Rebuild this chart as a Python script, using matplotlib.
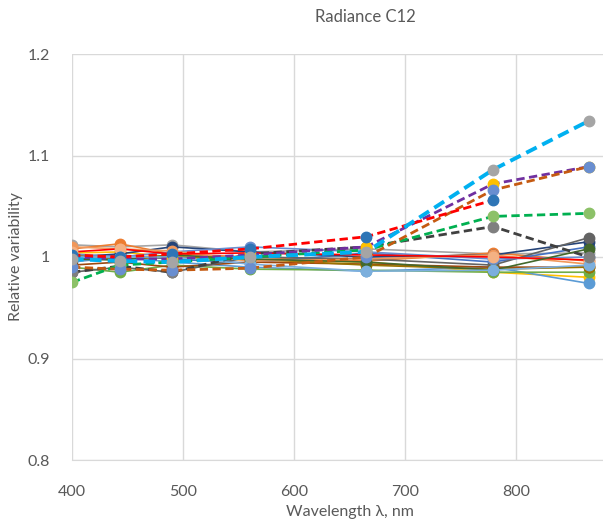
import matplotlib
matplotlib.use("Agg")
import matplotlib.pyplot as plt
import numpy as np

plt.rcParams['font.family'] = ['Lato', 'DejaVu Sans']

wavelengths = [400, 443, 490, 560, 665, 779, 865]

# solid series: line colour, marker colour, values
solid_colors = ["#A5A5A5", "#ED7D31", "#FFC000", "#4472C4", "#5B9BD5", "#70AD47",
                "#264478", "#9E480E", "#636363", "#997300", "#698ED0", "#F1975A",
                "#FF0000", "#43682B", "#7CAFDD"]
solid_marker_colors = ["#A5A5A5", "#ED7D31", "#FFC000", "#4472C4", "#5B9BD5", "#70AD47",
                       "#264478", "#9E480E", "#636363", "#997300", "#698ED0", "#F1975A",
                       "#F4B183", "#43682B", "#7CAFDD"]
solid_values = [
    [1.012, 1.010, 1.012, 1.005, 1.008, 1.003, 1.004],
    [1.008, 1.013, 1.003, 1.000, 0.996, 1.004, 0.996],
    [1.004, 1.005, 1.000, 0.997, 0.995, 0.985, 0.980],
    [0.997, 1.002, 0.998, 0.994, 1.004, 0.995, 1.010],
    [0.995, 1.000, 0.995, 0.990, 0.986, 0.990, 0.974],
    [0.990, 0.985, 0.992, 0.988, 0.987, 0.985, 0.985],
    [1.000, 1.003, 1.010, 1.005, 1.000, 1.002, 1.015],
    [0.992, 0.995, 0.990, 0.995, 0.993, 0.990, 0.990],
    [0.985, 0.990, 0.985, 1.000, 0.998, 0.992, 1.019],
    [1.002, 0.998, 1.000, 0.998, 0.992, 0.988, 0.990],
    [1.003, 1.000, 1.005, 1.010, 1.005, 0.998, 1.000],
    [1.010, 1.008, 1.006, 0.996, 0.998, 1.002, 0.993],
    [1.005, 1.008, 1.003, 1.004, 1.002, 1.000, 0.997],
    [0.998, 0.997, 1.002, 0.998, 0.995, 0.987, 1.008],
    [1.000, 1.000, 1.000, 0.993, 0.986, 0.987, 0.992],
]

# dashed series: line colour, marker colour, values
dashed_colors = ["#404040", "#00B050", "#7030A0", "#C55A11", "#FF0000", "#00B0F0"]
dashed_marker_colors = ["#7F7F7F", "#8CC168", "#FFC000", "#698ED0", "#2E75B6", "#A5A5A5"]
dashed_values = [
    [0.985, 0.991, 0.985, 1.003, 1.010, 1.030, 1.000],
    [0.975, 0.992, 0.995, 1.000, 1.007, 1.040, 1.043],
    [1.000, 0.998, 0.998, 1.002, 1.010, 1.072, 1.089],
    [0.990, 0.988, 0.987, 0.989, 1.000, 1.066, 1.089],
    [1.002, 1.000, 1.003, 1.008, 1.020, 1.056, np.nan],
    [0.998, 0.996, 0.995, 1.000, 1.005, 1.086, 1.134],
]
dashed_widths = [2.0, 2.0, 2.0, 2.0, 2.0, 2.8]

fig = plt.figure(figsize=(6.03, 5.24), dpi=100)
ax = fig.add_axes([72/603, 64/524, (603-72)/603, 406/524])

for c, mc, v in zip(solid_colors, solid_marker_colors, solid_values):
    ax.plot(wavelengths, v, color=c, lw=1.2, marker='o', ms=7.5,
            mfc=mc, mec=mc, zorder=2)

for c, mc, v, w in zip(dashed_colors, dashed_marker_colors, dashed_values, dashed_widths):
    ax.plot(wavelengths, v, color=c, lw=w, ls=(0, (3, 1.6)), marker='o', ms=7.5,
            mfc=mc, mec=mc, zorder=3)

ax.set_xlim(400, 878)
ax.set_ylim(0.8, 1.2)
ax.set_xticks([400, 500, 600, 700, 800])
ax.set_yticks([0.8, 0.9, 1.0, 1.1, 1.2])
ax.set_yticklabels(["0.8", "0.9", "1", "1.1", "1.2"])
ax.grid(True, color="#D9D9D9", lw=1)
ax.set_axisbelow(True)
for s in ["top", "right", "left"]:
    ax.spines[s].set_visible(False)
ax.spines["bottom"].set_color("#D9D9D9")
ax.tick_params(length=0, colors="#595959", labelsize=11.5)
ax.tick_params(axis='x', pad=18)
ax.tick_params(axis='y', pad=16)

fig.text(365/603, 1 - 17/524, "Radiance C12", ha='center', va='center',
         fontsize=12, color="#595959")
fig.text(350/603, 1 - 512/524, "Wavelength λ, nm", ha='center', va='center',
         fontsize=11.5, color="#595959")
fig.text(16/603, 1 - 257/524, "Relative variability", ha='center', va='center',
         rotation=90, fontsize=11.5, color="#595959")

fig.savefig("out.png", dpi=100)
